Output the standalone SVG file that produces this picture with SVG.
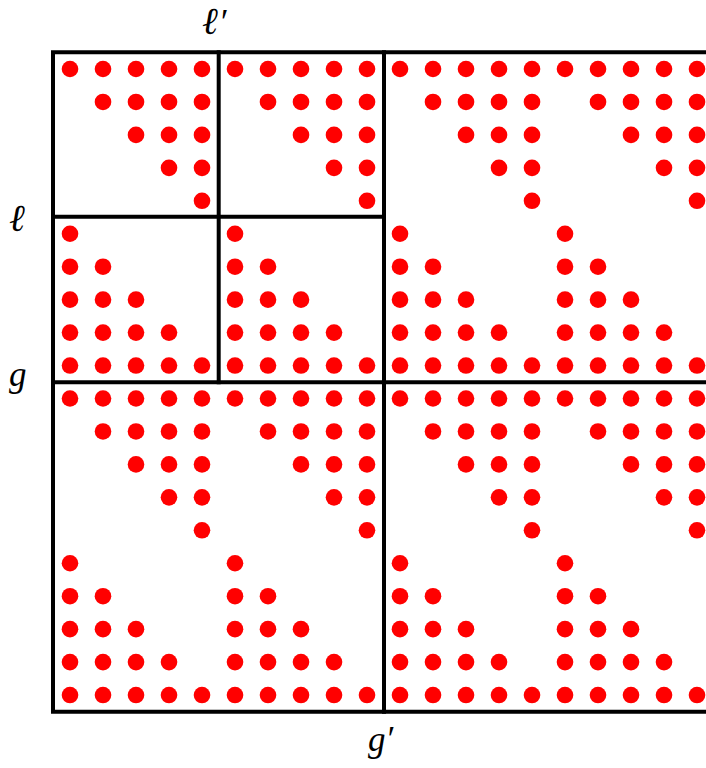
<svg xmlns="http://www.w3.org/2000/svg" xmlns:xlink="http://www.w3.org/1999/xlink" width="706" height="768" viewBox="0 0 706 768">
<style>
.d{fill:#ff0000}
.ln{stroke:#000;stroke-width:4;fill:none;stroke-linecap:square}
.lb{font-family:"Liberation Serif","DejaVu Serif",serif;font-style:italic;font-size:35px;fill:#000}
.el{font-family:"DejaVu Serif",serif;font-style:italic;font-size:38px;fill:#000}
</style>
<defs>
<g id="up">
<circle class="d" cx="0" cy="0" r="8.3"/><circle class="d" cx="33" cy="0" r="8.3"/><circle class="d" cx="66" cy="0" r="8.3"/><circle class="d" cx="99" cy="0" r="8.3"/><circle class="d" cx="132" cy="0" r="8.3"/>
<circle class="d" cx="33" cy="32.95" r="8.3"/><circle class="d" cx="66" cy="32.95" r="8.3"/><circle class="d" cx="99" cy="32.95" r="8.3"/><circle class="d" cx="132" cy="32.95" r="8.3"/>
<circle class="d" cx="66" cy="65.9" r="8.3"/><circle class="d" cx="99" cy="65.9" r="8.3"/><circle class="d" cx="132" cy="65.9" r="8.3"/>
<circle class="d" cx="99" cy="98.85" r="8.3"/><circle class="d" cx="132" cy="98.85" r="8.3"/>
<circle class="d" cx="132" cy="131.8" r="8.3"/>
</g>
<g id="lo">
<circle class="d" cx="0" cy="0" r="8.3"/>
<circle class="d" cx="0" cy="32.95" r="8.3"/><circle class="d" cx="33" cy="32.95" r="8.3"/>
<circle class="d" cx="0" cy="65.9" r="8.3"/><circle class="d" cx="33" cy="65.9" r="8.3"/><circle class="d" cx="66" cy="65.9" r="8.3"/>
<circle class="d" cx="0" cy="98.85" r="8.3"/><circle class="d" cx="33" cy="98.85" r="8.3"/><circle class="d" cx="66" cy="98.85" r="8.3"/><circle class="d" cx="99" cy="98.85" r="8.3"/>
<circle class="d" cx="0" cy="131.8" r="8.3"/><circle class="d" cx="33" cy="131.8" r="8.3"/><circle class="d" cx="66" cy="131.8" r="8.3"/><circle class="d" cx="99" cy="131.8" r="8.3"/><circle class="d" cx="132" cy="131.8" r="8.3"/>
</g>
</defs>
<g id="dots">
<use xlink:href="#up" x="70" y="69"/><use xlink:href="#up" x="235" y="69"/><use xlink:href="#up" x="400" y="69"/><use xlink:href="#up" x="565" y="69"/>
<use xlink:href="#lo" x="70" y="233.75"/><use xlink:href="#lo" x="235" y="233.75"/><use xlink:href="#lo" x="400" y="233.75"/><use xlink:href="#lo" x="565" y="233.75"/>
<use xlink:href="#up" x="70" y="398.5"/><use xlink:href="#up" x="235" y="398.5"/><use xlink:href="#up" x="400" y="398.5"/><use xlink:href="#up" x="565" y="398.5"/>
<use xlink:href="#lo" x="70" y="563.25"/><use xlink:href="#lo" x="235" y="563.25"/><use xlink:href="#lo" x="400" y="563.25"/><use xlink:href="#lo" x="565" y="563.25"/>
</g>
<g id="lines">
<path class="ln" d="M706 52.3H53V711.7H706"/>
<path class="ln" d="M384 52.3V711.7"/>
<path class="ln" d="M53 382.3H706"/>
<path class="ln" d="M218.7 52.3V382.3"/>
<path class="ln" d="M53 216.7H384"/>
</g>
<g id="labels">
<text class="el" x="202" y="34">ℓ<tspan class="lb" dx="1">′</tspan></text>
<text class="el" x="9" y="231">ℓ</text>
<text class="lb" x="9" y="386">g</text>
<text class="lb" x="368" y="751">g′</text>
</g>
</svg>
